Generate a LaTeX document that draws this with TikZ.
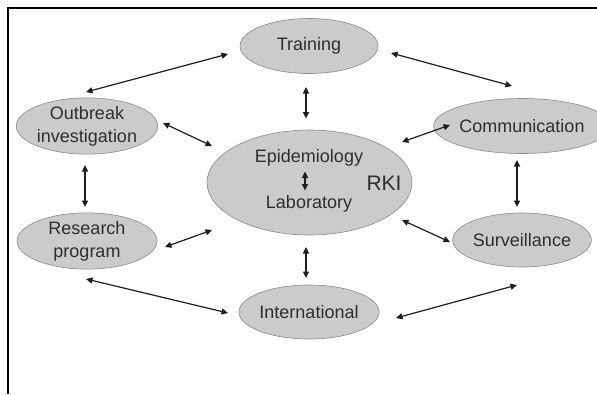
\documentclass[tikz,border=0pt]{standalone}
\usepackage{fontspec}
\setmainfont{Liberation Sans}
\usetikzlibrary{shapes.geometric,arrows.meta}
\definecolor{ellfill}{HTML}{CBCBCB}
\definecolor{elldraw}{HTML}{8A8A8A}
\definecolor{txt}{HTML}{2E2E2E}
\definecolor{arrc}{HTML}{1E1E1E}
\tikzset{
  oval/.style={ellipse, draw=elldraw, fill=ellfill, line width=0.6pt, inner sep=0pt,
    minimum width=138pt, minimum height=55pt, text=txt, align=center,
    font=\fontsize{18}{23}\selectfont},
  lbl/.style={text=txt, inner sep=0pt, font=\fontsize{18}{23}\selectfont},
  arr/.style={draw=arrc, line width=1.2pt, {Triangle[length=6.5pt,width=6pt]}-{Triangle[length=6.5pt,width=6pt]}},
  frameline/.style={draw=black, line width=1.5pt}
}
\begin{document}
\begin{tikzpicture}[x=1pt,y=-1pt]
\useasboundingbox (0,0) rectangle (597,394);
\coordinate (fa) at (8,8);
\coordinate (fb) at (597,8);
\coordinate (fc) at (8,394);
\draw[frameline] (fb) -- (fa) -- (fc);

\node[oval] (T) at (309,46) {Training\vphantom{p}};
\node[oval, minimum width=140pt] (O) at (87,126) {Outbreak\\investigation};
\node[oval, minimum width=140pt, minimum height=53pt] (R) at (87,241) {Research\\program};
\node[oval] (C) at (522,126) {Communication};
\node[oval, minimum height=54pt] (S) at (522,240) {Surveillance};
\node[oval, minimum height=54pt] (I) at (309,312) {International};
\node[oval, minimum width=205pt, minimum height=105pt] (E) at (309.5,182.5) {};

\node[lbl] (epi) at (309,158) {Epidemiology};
\node[lbl] (lab) at (309,204) {Laboratory};
\node[lbl, font=\fontsize{21}{25}\selectfont] (rki) at (384,183) {RKI};

\draw[arr] ([shift={(-81,8)}]T.center) -- ([shift={(-1,-34)}]O.center);
\draw[arr] ([shift={(82,7)}]T.center) -- ([shift={(-10,-40)}]C.center);
\draw[arr] ([shift={(-3,41)}]T.center) -- ([shift={(-3.5,-64)}]E.center);
\draw[arr] ([shift={(76,-3)}]O.center) -- ([shift={(-97.5,-36.5)}]E.center);
\draw[arr] ([shift={(-2,39)}]O.center) -- ([shift={(-2,-34)}]R.center);
\draw[arr] ([shift={(78,6)}]R.center) -- ([shift={(-97.5,47.5)}]E.center);
\draw[arr] ([shift={(92.5,-40.5)}]E.center) -- ([shift={(-72,-1)}]C.center);
\draw[arr] ([shift={(-5,34)}]C.center) -- ([shift={(-5,-33)}]S.center);
\draw[arr] ([shift={(92.5,37.5)}]E.center) -- ([shift={(-72,2)}]S.center);
\draw[arr] ([shift={(-3.5,64.5)}]E.center) -- ([shift={(-3,-34)}]I.center);
\draw[arr] ([shift={(-1,38)}]R.center) -- ([shift={(-81,1)}]I.center);
\draw[arr] ([shift={(-5,45)}]S.center) -- ([shift={(87,6)}]I.center);
\draw[arr] ([shift={(-4.5,-11)}]E.center) -- ([shift={(-4.5,8)}]E.center);
\end{tikzpicture}
\end{document}
